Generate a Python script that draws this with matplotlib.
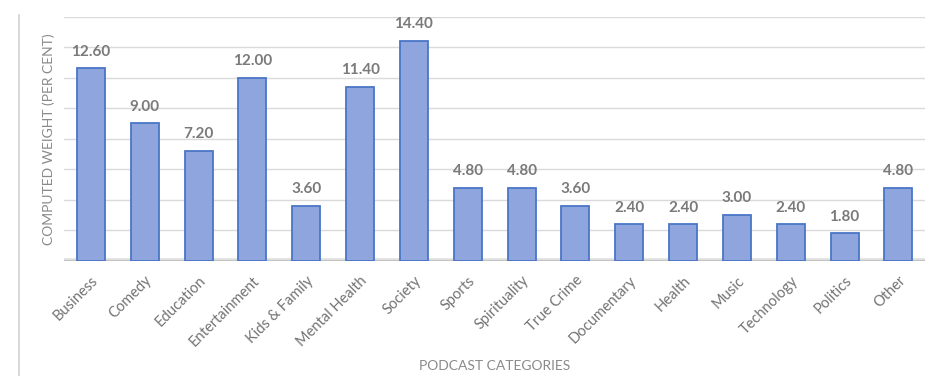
import matplotlib.pyplot as plt
from matplotlib.lines import Line2D

categories = ['Business', 'Comedy', 'Education', 'Entertainment', 'Kids & Family',
              'Mental Health', 'Society', 'Sports', 'Spirituality', 'True Crime',
              'Documentary', 'Health', 'Music', 'Technology', 'Politics', 'Other']
weights = [12.60, 9.00, 7.20, 12.00, 3.60, 11.40, 14.40, 4.80, 4.80, 3.60,
           2.40, 2.40, 3.00, 2.40, 1.80, 4.80]
grid_levels = [2, 4, 6, 8, 10, 12, 14, 16]

plt.rcParams['font.family'] = ['Lato', 'DejaVu Sans']

fig = plt.figure(figsize=(9.29, 3.76), dpi=100)
ax = fig.add_axes([0.069, 0.306, 0.927, 0.650])

x = list(range(len(categories)))
bars = ax.bar(x, weights, width=0.52, color='#8fa5dd', edgecolor='#4a76c6', linewidth=1.3, zorder=3)

for b, v in zip(bars, weights):
    ax.annotate(f'{v:.2f}', (b.get_x() + b.get_width() / 2, v), xytext=(0, 7),
                textcoords='offset points', ha='center', va='bottom',
                fontsize=11, color='#7a7a7a', fontweight='bold')

for g in grid_levels:
    ax.axhline(g, color='#dadada', lw=1, zorder=1)
# baseline with a soft shadow
ax.axhline(0, color='#e6e6e6', lw=5, zorder=2)
ax.axhline(0, color='#c4c4c4', lw=2.5, zorder=2)

ax.set_xlim(-0.5, len(categories) - 0.5)
ax.set_ylim(0, 16)
ax.set_yticks([])
ax.set_xticks(x)
ax.set_xticklabels(categories, rotation=45, ha='right', rotation_mode='anchor',
                   fontsize=10.5, color='#737373')
ax.tick_params(axis='x', length=0, pad=9)
for s in ax.spines.values():
    s.set_visible(False)

ax.set_ylabel('COMPUTED WEIGHT (PER CENT)', fontsize=10, color='#8a8a8a')
ax.set_xlabel('PODCAST CATEGORIES', fontsize=10, color='#8a8a8a')
ax.xaxis.set_label_coords(0.5, -0.405)
ax.yaxis.set_label_coords(-0.010, 0.50)

# page border on the left
fig.add_artist(Line2D([19 / 929, 19 / 929], [0, 1 - 15 / 376], transform=fig.transFigure,
                      color='#d2d2d2', lw=1.2))

fig.savefig('out.png', dpi=100)
